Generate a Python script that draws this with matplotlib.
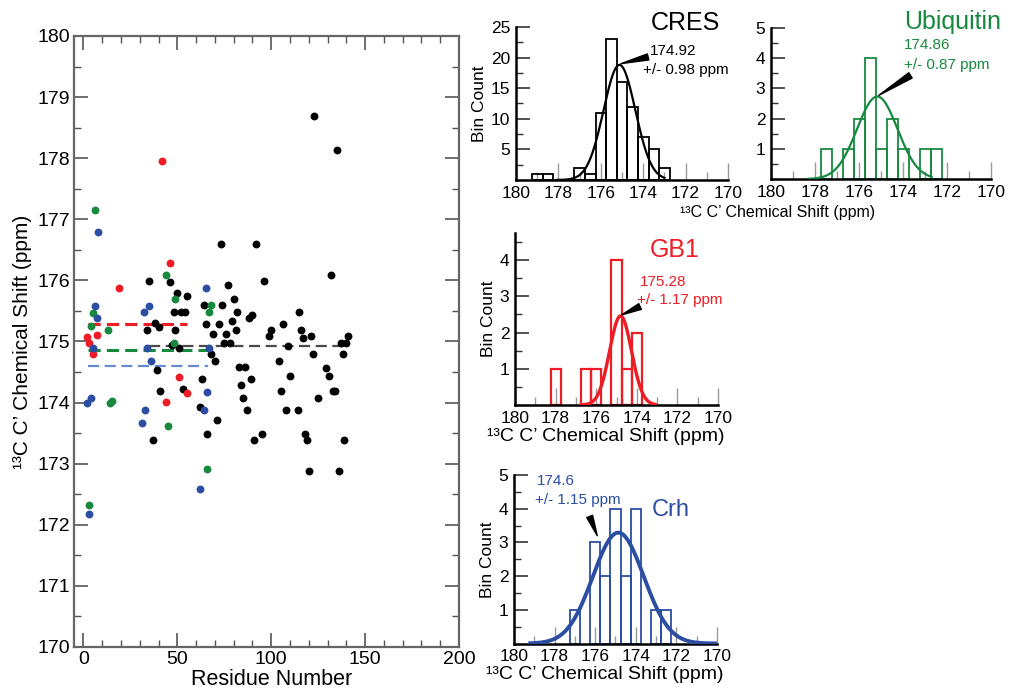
import numpy as np
import matplotlib
matplotlib.use("Agg")
import matplotlib.pyplot as plt
from matplotlib.ticker import MultipleLocator, FixedLocator

plt.rcParams['font.family'] = ['Liberation Sans', 'DejaVu Sans']

# ---------------- scatter data (residue number, 13C C' shift) ----------------
cres_res = [73, 92, 35, 46, 96, 77, 132, 50, 55, 80, 64, 74, 48, 52, 54, 82, 88, 90,
            115, 38, 40, 79, 65, 72, 106, 34, 49, 81, 100, 99, 116, 117, 121, 69, 76,
            75, 78, 141, 137, 140, 47, 109, 51, 68, 70, 122, 138, 104, 39, 83, 86, 129,
            110, 131, 63, 89, 53, 84, 41, 105, 133, 134, 85, 125, 62, 87, 108, 114, 71,
            66, 37, 95, 91, 118, 119, 139, 120, 136, 123, 135]
cres_shift = [176.59, 176.59, 175.99, 175.97, 175.99, 175.93, 176.09, 175.79, 175.74,
              175.69, 175.60, 175.59, 175.49, 175.49, 175.49, 175.49, 175.39, 175.44,
              175.49, 175.30, 175.24, 175.34, 175.28, 175.28, 175.28, 175.19, 175.19,
              175.19, 175.19, 175.09, 175.19, 175.05, 175.09, 175.13, 175.12, 174.98,
              174.98, 175.09, 174.98, 174.98, 174.94, 174.93, 174.89, 174.79, 174.68,
              174.79, 174.79, 174.68, 174.53, 174.58, 174.58, 174.56, 174.43, 174.43,
              174.38, 174.38, 174.23, 174.29, 174.19, 174.19, 174.19, 174.19, 174.08,
              174.08, 173.92, 173.88, 173.88, 173.88, 173.71, 173.48, 173.38, 173.48,
              173.38, 173.48, 173.38, 173.38, 172.88, 172.88, 178.69, 178.13]

gb1_res = [46, 19, 2, 3, 7, 5, 51, 55, 44, 42]
gb1_shift = [176.29, 175.88, 175.08, 174.97, 175.10, 174.79, 174.42, 174.15, 174.01, 177.95]

ubq_res = [6, 5, 4, 13, 15, 14, 44, 49, 48, 45, 68, 67, 66, 3]
ubq_shift = [177.15, 175.46, 175.26, 175.19, 174.03, 174.00, 176.09, 175.70, 174.98,
             173.61, 175.60, 175.48, 172.92, 172.32]

crh_res = [8, 6, 7, 5, 2, 4, 32, 35, 34, 36, 33, 31, 65, 67, 66, 64, 62, 3]
crh_shift = [176.79, 175.58, 175.39, 174.89, 173.99, 174.08, 175.49, 175.58, 174.89,
             174.68, 173.88, 173.67, 175.88, 174.89, 174.18, 173.88, 172.58, 172.17]

# mean lines: value, first residue, last residue
mean_vals = [174.92, 175.28, 174.86, 174.6]
mean_start = [35, 2.7, 2.7, 2.7]
mean_end = [141, 55, 68, 66.5]

# ---------------- histogram data ----------------
cres_bins = [179.0, 178.5, 177.0, 176.5, 176.0, 175.5, 175.0, 174.5, 174.0, 173.5, 173.0]
cres_counts = [1, 1, 2, 1, 11, 23, 16, 12, 7, 5, 2]
ubq_bins = [177.5, 176.5, 176.0, 175.5, 175.0, 174.5, 174.0, 173.0, 172.5]
ubq_counts = [1, 1, 2, 4, 1, 2, 1, 1, 1]
gb1_bins = [178.0, 176.5, 176.0, 175.0, 174.5, 174.0]
gb1_counts = [1, 1, 1, 4, 1, 2]
crh_bins = [177.0, 176.0, 175.5, 175.0, 174.5, 174.0, 173.0, 172.5]
crh_counts = [1, 3, 2, 4, 2, 4, 1, 1]

# gaussian fits as drawn: centre, sigma, amplitude, drawn range
cres_fit = [175.12, 0.75, 18.8, 178.1, 173.0]
ubq_fit = [175.17, 0.92, 2.73, 178.3, 172.7]
gb1_fit = [174.80, 0.54, 2.46, 176.75, 173.1]
crh_fit = [174.86, 1.25, 3.29, 179.2, 170.1]

BLACK = '#000000'
RED = '#ee1c24'
GREEN = '#17893f'
BLUE = '#2b4ea3'
LBLUE = '#6a8ad0'

fig = plt.figure(figsize=(10.1, 6.89), dpi=100)

# ---------------- main scatter ----------------
ax = fig.add_axes([0.0733, 0.061, 0.3812, 0.8868])
ax.set_xlim(-5, 200)
ax.set_ylim(170, 180)
ms = 32
ax.hlines(mean_vals[0], mean_start[0], mean_end[0], colors='#4a4a4a', lw=1.6,
          linestyles=(0, (5, 2.5)), zorder=2)
ax.hlines(mean_vals[1], mean_start[1], mean_end[1], colors=RED, lw=2.2,
          linestyles=(0, (4, 2)), zorder=2)
ax.hlines(mean_vals[2], mean_start[2], mean_end[2], colors=GREEN, lw=2.2,
          linestyles=(0, (4, 2)), zorder=2)
ax.hlines(mean_vals[3], mean_start[3], mean_end[3], colors=LBLUE, lw=1.6,
          linestyles=(0, (5, 2.5)), zorder=2)
ax.scatter(cres_res, cres_shift, s=ms, color=BLACK, lw=0, zorder=3)
ax.scatter(gb1_res, gb1_shift, s=ms, color=RED, lw=0, zorder=3)
ax.scatter(ubq_res, ubq_shift, s=ms, color=GREEN, lw=0, zorder=3)
ax.scatter(crh_res, crh_shift, s=ms, color=BLUE, lw=0, zorder=3)

ax.xaxis.set_major_locator(MultipleLocator(50))
ax.xaxis.set_minor_locator(MultipleLocator(10))
ax.yaxis.set_major_locator(MultipleLocator(1))
ax.yaxis.set_minor_locator(MultipleLocator(0.5))
ax.tick_params(which='both', direction='in', top=True, right=True, color='#555',
               labelsize=14, pad=3)
ax.tick_params(which='major', length=10, width=1.2)
ax.tick_params(which='minor', length=5, width=1.0)
for sp in ax.spines.values():
    sp.set_color('#666')
    sp.set_linewidth(1.6)
ax.set_xlabel('Residue Number', fontsize=15.5, labelpad=0)
ax.xaxis.set_label_coords(0.514, -0.036)
ax.set_ylabel('\u00b9\u00b3C C\u2019 Chemical Shift (ppm)', fontsize=15, labelpad=4)


def hist_panel(rect, bins, counts, fit, color, ytop, ylabels, yminor,
               bar_lw, fit_lw, ylabel=True):
    h = fig.add_axes(rect)
    h.bar(bins, counts, width=0.5, fill=False, edgecolor=color, linewidth=bar_lw,
          zorder=2)
    xs = np.linspace(fit[3], fit[4], 300)
    h.plot(xs, fit[2] * np.exp(-(xs - fit[0]) ** 2 / (2 * fit[1] ** 2)),
           color=color, lw=fit_lw, zorder=3)
    h.set_xlim(180, 170)
    h.set_ylim(0, ytop)
    h.spines['top'].set_visible(False)
    h.spines['right'].set_visible(False)
    h.spines['left'].set_linewidth(1.8)
    h.spines['bottom'].set_linewidth(1.8)
    h.xaxis.set_major_locator(MultipleLocator(2))
    h.xaxis.set_minor_locator(MultipleLocator(1))
    h.yaxis.set_major_locator(FixedLocator(ylabels))
    h.yaxis.set_minor_locator(MultipleLocator(yminor))
    h.tick_params(axis='x', which='both', direction='in', color='#9a9a9a',
                  labelsize=12.5, pad=4)
    h.tick_params(axis='x', which='major', length=12, width=1.0)
    h.tick_params(axis='x', which='minor', length=6, width=1.0)
    h.tick_params(axis='y', which='both', direction='in', color='#333',
                  labelsize=12.5, pad=4)
    h.tick_params(axis='y', which='major', length=10, width=1.2)
    h.tick_params(axis='y', which='minor', length=5, width=1.0)
    if ylabel:
        h.set_ylabel('Bin Count', fontsize=12.5, labelpad=3)
    return h


def wedge(h, tip, tail):
    h.annotate('', xy=tip, xytext=tail,
               arrowprops=dict(arrowstyle='wedge,tail_width=0.45,shrink_factor=0.5',
                               color='k', shrinkA=0, shrinkB=0), zorder=5)


XLAB = '\u00b9\u00b3C C\u2019 Chemical Shift (ppm)'

# CRES
h1 = hist_panel([0.5109, 0.7388, 0.2099, 0.2221], cres_bins, cres_counts, cres_fit,
                BLACK, 25, [5, 10, 15, 20, 25], 2.5, 1.3, 1.6)
h1.text(173.65, 25.7, 'CRES', fontsize=18, color=BLACK, va='center', ha='left',
        clip_on=False)
h1.text(173.68, 21.1, '174.92', fontsize=11, color=BLACK, va='center', ha='left')
h1.text(174.0, 18.0, '+/- 0.98 ppm', fontsize=11, color=BLACK, va='center', ha='left')
wedge(h1, (175.05, 19.0), (173.77, 20.1))
fig.text(778 / 1010, 1 - 213 / 689, XLAB, fontsize=11.5, ha='center', va='center')

# Ubiquitin
h2 = hist_panel([0.7634, 0.7402, 0.2178, 0.2192], ubq_bins, ubq_counts, ubq_fit,
                GREEN, 5, [1, 2, 3, 4, 5], 0.5, 1.3, 1.6, ylabel=False)
h2.text(173.97, 5.2, 'Ubiquitin', fontsize=18, color=GREEN, va='center', ha='left',
        clip_on=False)
h2.text(173.97, 4.42, '174.86', fontsize=11, color=GREEN, va='center', ha='left')
h2.text(173.97, 3.76, '+/- 0.87 ppm', fontsize=11, color=GREEN, va='center', ha='left')
wedge(h2, (175.1, 2.77), (173.66, 3.43))

# GB1
h3 = hist_panel([0.5099, 0.4122, 0.2010, 0.2496], gb1_bins, gb1_counts, gb1_fit,
                RED, 4.75, [1, 2, 3, 4], 0.5, 1.6, 2.4)
h3.text(173.35, 4.28, 'GB1', fontsize=18, color=RED, va='center', ha='left')
h3.text(173.84, 3.41, '175.28', fontsize=11, color=RED, va='center', ha='left')
h3.text(173.99, 2.90, '+/- 1.17 ppm', fontsize=11, color=RED, va='center', ha='left')
wedge(h3, (174.74, 2.49), (173.84, 2.72))
h3.set_xlabel(XLAB, fontsize=14, labelpad=2)
h3.xaxis.set_label_coords(0.448, -0.135)

# Crh
h4 = hist_panel([0.5089, 0.0660, 0.2010, 0.2446], crh_bins, crh_counts, crh_fit,
                BLUE, 5, [1, 2, 3, 4, 5], 0.5, 1.3, 2.8)
h4.text(173.2, 3.97, 'Crh', fontsize=17, color=BLUE, va='center', ha='left')
h4.text(178.87, 4.81, '174.6', fontsize=11, color=BLUE, va='center', ha='left')
h4.text(178.97, 4.26, '+/- 1.15 ppm', fontsize=11, color=BLUE, va='center', ha='left')
wedge(h4, (175.9, 3.2), (176.27, 3.77))
h4.set_xlabel(XLAB, fontsize=14, labelpad=2)
h4.xaxis.set_label_coords(0.448, -0.135)

fig.savefig('out.png', dpi=100)
